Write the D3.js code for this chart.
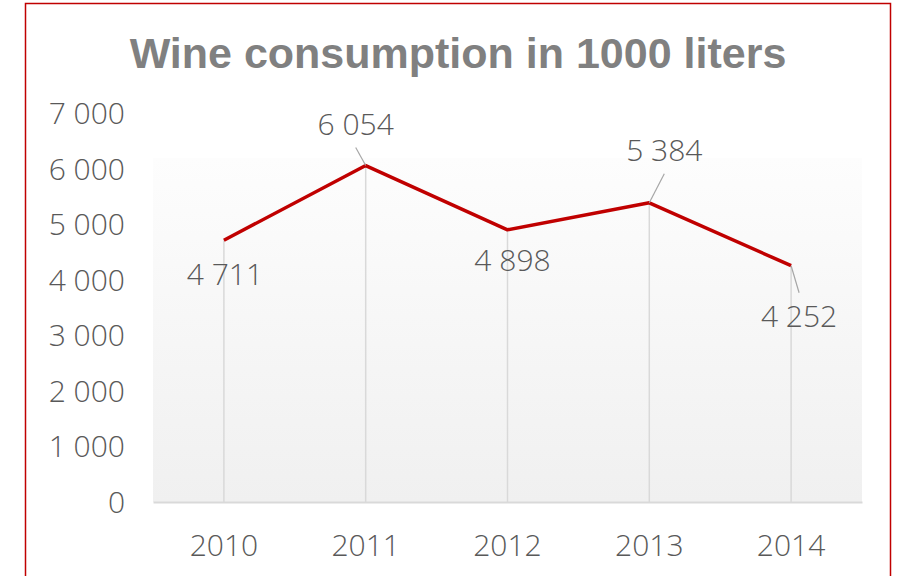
<!DOCTYPE html>
<html>
<head>
<meta charset="utf-8">
<script src="https://cdn.jsdelivr.net/npm/d3@7/dist/d3.min.js"></script>
<style>
  html, body { margin: 0; padding: 0; background: #ffffff; }
  svg { display: block; }
</style>
</head>
<body>
<script>
const years = ["2010", "2011", "2012", "2013", "2014"];
const consumption = [4711, 6054, 4898, 5384, 4252];
const yTicks = [0, 1000, 2000, 3000, 4000, 5000, 6000, 7000];
const titleText = "Wine consumption in 1000 liters";
// label offsets relative to each point
const labelPlacement = [
  { dx: 1, dy: 34, leader: false },
  { dx: -10, dy: -41, leader: true },
  { dx: 5, dy: 31, leader: false },
  { dx: 15, dy: -52, leader: true },
  { dx: 8, dy: 51, leader: true }
];

const W = 897, H = 576;
const svg = d3.select("body").append("svg").attr("width", W).attr("height", H);

const fmt = v => d3.format(",")(v).replace(/,/g, " ");
const labelFont = "'Open Sans', sans-serif";
const labelSize = 30;
const labelColor = "#595959";

const plot = { left: 153, right: 862, top: 158, bottom: 502 };
const x = d3.scaleBand().domain(years).range([plot.left, plot.right]);
const y = d3.scaleLinear().domain([0, 7000]).range([502, 113]);

// outer frame
svg.append("rect")
  .attr("x", 25.5).attr("y", 3.5).attr("width", 865).attr("height", 600)
  .attr("fill", "#ffffff").attr("stroke", "#c00000").attr("stroke-width", 1.5);

// plot-area gradient
const defs = svg.append("defs");
const grad = defs.append("linearGradient").attr("id", "plotGrad")
  .attr("x1", 0).attr("y1", 0).attr("x2", 0).attr("y2", 1);
grad.append("stop").attr("offset", "0%").attr("stop-color", "#fdfdfd");
grad.append("stop").attr("offset", "100%").attr("stop-color", "#f0f0f0");

svg.append("rect")
  .attr("x", plot.left).attr("y", plot.top)
  .attr("width", plot.right - plot.left).attr("height", plot.bottom - plot.top)
  .attr("fill", "url(#plotGrad)");

// title
svg.append("text")
  .attr("x", 458).attr("y", 68)
  .attr("text-anchor", "middle")
  .attr("font-family", "'Liberation Sans', Arial, sans-serif")
  .attr("font-weight", "bold")
  .attr("font-size", 43)
  .attr("fill", "#808080")
  .text(titleText);

const cx = d => x(d) + x.bandwidth() / 2;

// drop lines
svg.append("g").selectAll("line").data(years).join("line")
  .attr("x1", d => cx(d)).attr("x2", d => cx(d))
  .attr("y1", (d, i) => y(consumption[i])).attr("y2", y(0))
  .attr("stroke", "#d9d9d9").attr("stroke-width", 1.5);

// x axis baseline
const xAxis = svg.append("g").attr("transform", `translate(0,${y(0)})`)
  .call(d3.axisBottom(x).tickSize(0).tickPadding(0));
xAxis.select(".domain").attr("stroke", "#d9d9d9").attr("stroke-width", 2);
xAxis.selectAll("text")
  .attr("dy", 0).attr("y", 54)
  .attr("font-family", labelFont)
  .attr("font-weight", 300)
  .attr("font-size", labelSize)
  .attr("fill", labelColor);

// y axis labels
const yAxis = svg.append("g").attr("transform", "translate(125,0)")
  .call(d3.axisLeft(y).tickValues(yTicks).tickFormat(fmt).tickSize(0).tickPadding(0));
yAxis.select(".domain").remove();
yAxis.selectAll("text")
  .attr("dy", "0.35em")
  .attr("font-family", labelFont)
  .attr("font-weight", 300)
  .attr("font-size", labelSize)
  .attr("fill", labelColor);

// series line
const line = d3.line().x((d, i) => cx(years[i])).y(d => y(d));
svg.append("path").datum(consumption)
  .attr("d", line)
  .attr("fill", "none")
  .attr("stroke", "#c00000")
  .attr("stroke-width", 3.5)
  .attr("stroke-linejoin", "round");

// data labels with leader lines
const labels = svg.append("g");
consumption.forEach((v, i) => {
  const px = cx(years[i]), py = y(v);
  const p = labelPlacement[i];
  const lx = px + p.dx, ly = py + p.dy;
  if (p.leader) {
    const endY = p.dy < 0 ? ly + 23 : ly - 24;
    labels.append("line")
      .attr("x1", px).attr("y1", py)
      .attr("x2", lx).attr("y2", endY)
      .attr("stroke", "#a6a6a6").attr("stroke-width", 1.2);
  }
  labels.append("text")
    .attr("x", lx).attr("y", ly)
    .attr("text-anchor", "middle")
    .attr("dy", "0.35em")
    .attr("font-family", labelFont)
    .attr("font-weight", 300)
    .attr("font-size", labelSize)
    .attr("fill", labelColor)
    .text(fmt(v));
});
</script>
</body>
</html>
